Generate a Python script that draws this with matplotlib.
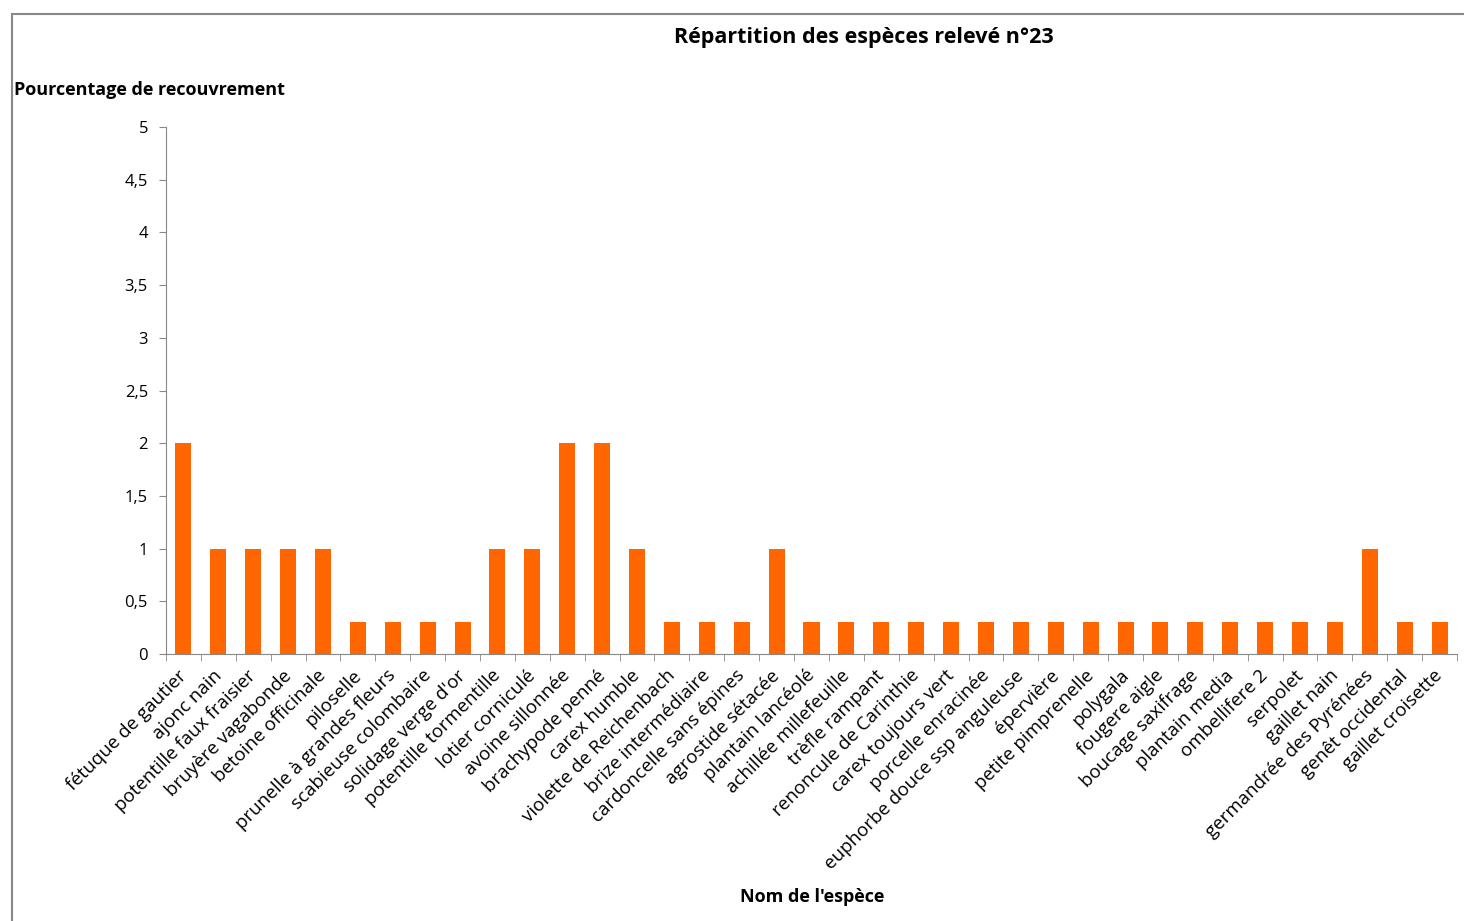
import numpy as np
import matplotlib
matplotlib.use("Agg")
import matplotlib.pyplot as plt
import matplotlib.transforms as mtransforms
from matplotlib.patches import Rectangle

plt.rcParams['font.family'] = ['Open Sans', 'DejaVu Sans']

especes = [
    "fétuque de gautier", "ajonc nain", "potentille faux fraisier",
    "bruyère vagabonde", "betoine officinale", "piloselle",
    "prunelle à grandes fleurs", "scabieuse colombaire", "solidage verge d'or",
    "potentille tormentille", "lotier corniculé", "avoine sillonnée",
    "brachypode penné", "carex humble", "violette de Reichenbach",
    "brize intermédiaire", "cardoncelle sans épines", "agrostide sétacée",
    "plantain lancéolé", "achillée millefeuille", "trèfle rampant",
    "renoncule de Carinthie", "carex toujours vert", "porcelle enracinée",
    "euphorbe douce ssp anguleuse", "épervière", "petite pimprenelle",
    "polygala", "fougere aigle", "boucage saxifrage", "plantain media",
    "ombellifere 2", "serpolet", "gaillet nain", "germandrée des Pyrénées",
    "genêt occidental", "gaillet croisette",
]
recouvrement = [
    2, 1, 1, 1, 1, 0.3, 0.3, 0.3, 0.3, 1, 1, 2, 2, 1, 0.3, 0.3, 0.3, 1,
    0.3, 0.3, 0.3, 0.3, 0.3, 0.3, 0.3, 0.3, 0.3, 0.3, 0.3, 0.3, 0.3, 0.3,
    0.3, 0.3, 1, 0.3, 0.3,
]
yticks = [0, 0.5, 1, 1.5, 2, 2.5, 3, 3.5, 4, 4.5, 5]

W, H = 1464, 921
fig = plt.figure(figsize=(W / 100, H / 100), dpi=100)
fig.patches.append(Rectangle((12 / W, -0.01), 1.0, 1 - 14 / H + 0.01,
                             transform=fig.transFigure, fill=False,
                             edgecolor='#888888', linewidth=1.5))

ax = fig.add_axes([166 / W, 1 - 654 / H, (1457 - 166) / W, (654 - 127) / H])
x = np.arange(len(especes))
ax.bar(x, recouvrement, width=0.46, color='#FF6600')
ax.set_xlim(-0.5, len(especes) - 0.5)
ax.set_ylim(0, 5)

for s in ['top', 'right']:
    ax.spines[s].set_visible(False)
for s in ['left', 'bottom']:
    ax.spines[s].set_color('#888888')

ax.set_yticks(yticks)
ax.set_yticklabels([f"{v:g}".replace('.', ',') for v in yticks], fontsize=12)
ax.tick_params(axis='y', length=5, color='#888888', pad=8)

ax.set_xticks(x)
ax.set_xticklabels(especes, rotation=45, ha='right', rotation_mode='anchor',
                   fontsize=13.5)
ax.tick_params(axis='x', length=0, pad=9)
shift = mtransforms.ScaledTranslation(-6 / 100, 0, fig.dpi_scale_trans)
for lbl in ax.get_xticklabels():
    lbl.set_transform(lbl.get_transform() + shift)
ax.set_xticks(np.arange(len(especes) + 1) - 0.5, minor=True)
ax.tick_params(axis='x', which='minor', length=5, color='#888888')

fig.text(864 / W, 1 - 38 / H, "Répartition des espèces relevé n°23",
         ha='center', va='center', fontsize=15.5, fontweight='bold')
fig.text(14 / W, 1 - 90 / H, "Pourcentage de recouvrement",
         ha='left', va='center', fontsize=13, fontweight='bold')
fig.text(812 / W, 1 - 897 / H, "Nom de l'espèce",
         ha='center', va='center', fontsize=13, fontweight='bold')

fig.savefig("out.png", dpi=100)
